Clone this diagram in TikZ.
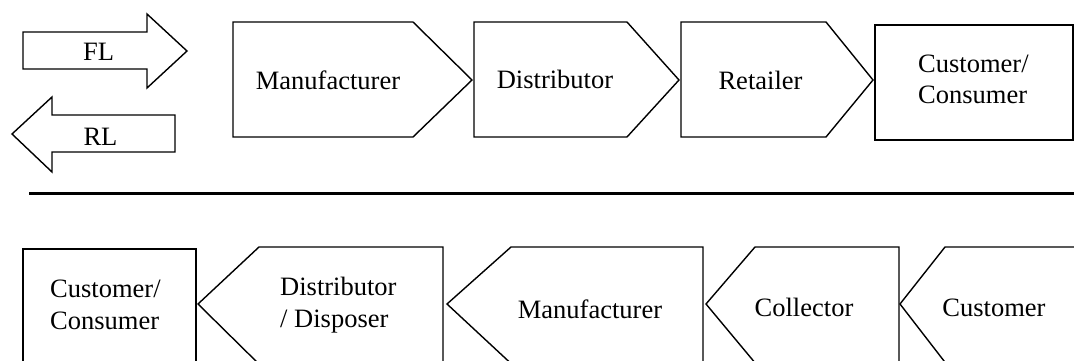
\documentclass[tikz,border=0pt]{standalone}
\usepackage{fontspec}
\setmainfont{Liberation Serif}
\begin{document}
\begin{tikzpicture}[x=1pt,y=-1pt,
  outline/.style={draw=black,line width=1.4pt,line join=miter,fill=white},
  lbl/.style={font=\fontsize{26.5}{31.5}\selectfont,inner sep=0pt,align=left},
  rule/.style={draw=black,line width=3.5pt}]
\useasboundingbox (0,0) rectangle (1074,361);
\clip (0,0) rectangle (1074,361);

% legend: forward and reverse logistics arrows
\draw[outline] (23,32) -- (147,32) -- (147,14) -- (187,51) -- (147,88) -- (147,69) -- (23,69) -- cycle;
\node[lbl,anchor=base] (fl) at (98.5,61) {FL};
\draw[outline] (175,115) -- (52,115) -- (52,97) -- (12,134) -- (52,172) -- (52,152) -- (175,152) -- cycle;
\node[lbl,anchor=base] (rl) at (100.5,145) {RL};

% forward chain
\draw[outline] (233,22) -- (413,22) -- (472,80) -- (413,137) -- (233,137) -- cycle;
\node[lbl,anchor=base] (fman) at (328,89) {Manufacturer};
\draw[outline] (474,22) -- (627,22) -- (679,80) -- (627,137) -- (474,137) -- cycle;
\node[lbl,anchor=base] (fdist) at (555,88.5) {Distributor};
\draw[outline] (681,22) -- (826,22) -- (873,80) -- (826,137) -- (681,137) -- cycle;
\node[lbl,anchor=base] (fret) at (760.5,89) {Retailer};
\draw[outline] (875,25) rectangle (1073,140);
% multi-line labels: the base anchor sits on the last line
\node[lbl,anchor=base west] (fcust) at (918,103.5) {Customer/\\Consumer};

% separator between the two chains
\coordinate (sepL) at (29,193.5);
\coordinate (sepR) at (1080,193.5);
\draw[rule] (sepL) -- (sepR);

% reverse chain
\draw[outline] (23,249) rectangle (196,370);
\node[lbl,anchor=base west] (rcust) at (50,329) {Customer/\\Consumer};
\draw[outline] (198,304) -- (259,247) -- (443,247) -- (443,370) -- (265,370) -- cycle;
\node[lbl,anchor=base west] (rdist) at (280,327) {Distributor\\/ Disposer};
\draw[outline] (447,304) -- (511,247) -- (703,247) -- (703,370) -- (518,370) -- cycle;
\node[lbl,anchor=base] (rman) at (590,318) {Manufacturer};
\draw[outline] (706,304) -- (755,247) -- (899,247) -- (899,370) -- (761,370) -- cycle;
\node[lbl,anchor=base] (rcoll) at (804,316) {Collector};
\draw[outline] (900,304) -- (945,247) -- (1090,247) -- (1090,370) -- (951,370) -- cycle;
\node[lbl,anchor=base] (rcons) at (994,316) {Customer};
\end{tikzpicture}
\end{document}
